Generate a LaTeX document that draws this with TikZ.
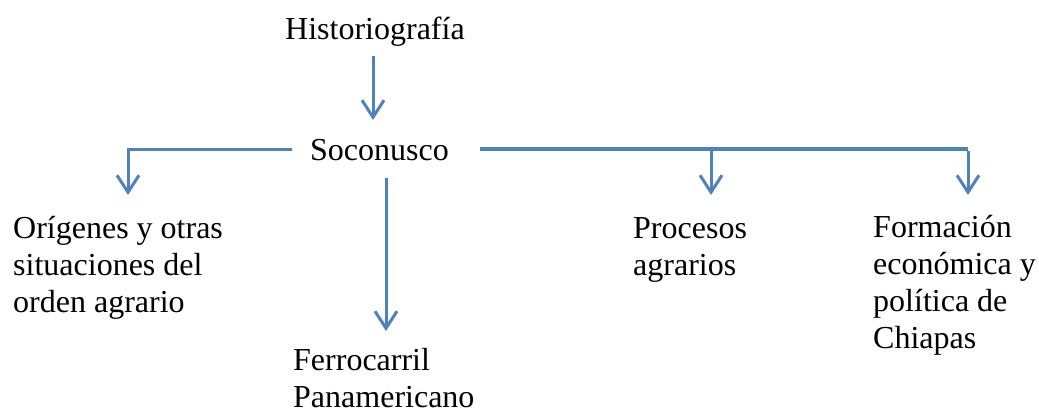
\documentclass[tikz,border=0pt]{standalone}
\usepackage{fontspec}
\setmainfont{Liberation Serif}
\usetikzlibrary{arrows.meta}
\definecolor{lineblue}{RGB}{79,129,189}
\begin{document}
\begin{tikzpicture}[x=1pt,y=-1pt,
  txt/.style={anchor=base west,inner sep=0pt,align=left,font=\fontsize{32}{37}\selectfont},
  conn/.style={draw=lineblue,line width=3pt},
  arr/.style={conn,-{Straight Barb[length=17pt,width=22pt,line width=3pt]}}]
\useasboundingbox (0,0) rectangle (1039,410);
% base anchor of a multi-line node is the baseline of its last line
\node[txt] (hist) at (285,39) {Historiografía};
\node[txt] (soc) at (310,160) {Soconusco};
\node[txt] (orig) at (13,312) {Orígenes y otras\\situaciones del\\orden agrario};
\node[txt] (ferro) at (293,407) {Ferrocarril\\Panamericano};
\node[txt] (proc) at (633,275) {Procesos\\agrarios};
\node[txt] (form) at (873,348) {Formación\\económica y\\política de\\Chiapas};
% connector points
\coordinate (hTop) at (373,56);
\coordinate (sIn) at (373,120);
\coordinate (sL) at (292,149);
\coordinate (oIn) at (128,195);
\coordinate (sD) at (386,178);
\coordinate (fIn) at (386,331);
\coordinate (sR) at (480,149);
\coordinate (cR) at (968,149);
\coordinate (cP) at (711,149);
\coordinate (formIn) at (968,195);
\coordinate (procIn) at (711,195);
\draw[arr] (hTop) -- (sIn);
\draw[arr] (sL) -| (oIn);
\draw[arr] (sD) -- (fIn);
\draw[conn,line width=4pt] (sR) -- (cR);
\draw[arr] ([yshift=-2pt]cR) -- (formIn);
\draw[arr] (cP) -- (procIn);
\end{tikzpicture}
\end{document}
